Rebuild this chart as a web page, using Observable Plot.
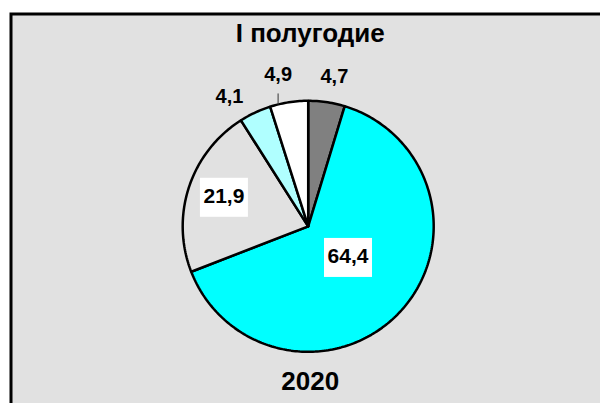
<!DOCTYPE html>
<html>
<head>
<meta charset="utf-8">
<script src="https://cdn.jsdelivr.net/npm/d3@7"></script>
<script src="https://cdn.jsdelivr.net/npm/@observablehq/plot@0.6"></script>
<style>
  html, body { margin: 0; padding: 0; background: #ffffff; }
  #chart svg { display: block; }
</style>
</head>
<body>
<div id="chart"></div>
<script>
// ---- data ----
const title = "I полугодие";
const yearLabel = "2020";
const categories = ["Категория 1", "Категория 2", "Категория 3", "Категория 4", "Категория 5"];
const values = [4.7, 64.4, 21.9, 4.1, 4.9];
const valueLabels = ["4,7", "64,4", "21,9", "4,1", "4,9"];
const sliceColors = ["#808080", "#00ffff", "#e1e1e1", "#b0ffff", "#ffffff"];

// ---- geometry from d3.pie (clockwise from 12 o'clock) ----
const arcs = d3.pie().sort(null).value(d => d)(values);

const slicePoints = [];
arcs.forEach((a, i) => {
  const n = Math.max(8, Math.ceil((a.endAngle - a.startAngle) / (Math.PI / 180)));
  slicePoints.push({i, x: 0, y: 0});
  for (let k = 0; k <= n; k++) {
    const t = a.startAngle + (a.endAngle - a.startAngle) * k / n;
    slicePoints.push({i, x: Math.sin(t), y: Math.cos(t)});
  }
  slicePoints.push({i, x: 0, y: 0});
});

// label placement style: radial factor + pixel nudges
const labelStyle = [
  {rf: 1.2, dx: 4, dy: -1, size: 20, box: false},
  {rf: 0.4, dx: 3, dy: -4, size: 21, box: true},
  {rf: 0.69, dx: -2, dy: -3, size: 21, box: true},
  {rf: 1.2, dx: -15, dy: 6.5, size: 20, box: false},
  {rf: 1.2, dx: -7, dy: -2.5, size: 20, box: false, leader: true}
];

const labels = arcs.map((a, i) => {
  const mid = (a.startAngle + a.endAngle) / 2;
  const s = labelStyle[i];
  return {i, text: valueLabels[i], x: Math.sin(mid) * s.rf, y: Math.cos(mid) * s.rf, ...s};
});

const R = 125.5, CX = 307.7, CY = 225.8;

const boxLabels = labels.filter(d => d.box);
const leaders = labels.filter(d => d.leader).map(d => {
  const lx = d.x + d.dx / R;
  const ay = Math.sqrt(1 - lx * lx);
  return {x: lx, y1: ay, y2: ay + 11 / R};
});

const font = "'Liberation Sans', Arial, sans-serif";

const marks = [
  Plot.frame({fill: "#e1e1e1", stroke: "#000000", strokeWidth: 3,
    insetLeft: 10.5, insetTop: 13.5, insetRight: -10, insetBottom: -10}),
  Plot.line(slicePoints, {
    x: "x", y: "y", z: "i",
    fill: d => sliceColors[d.i],
    stroke: "#000000", strokeWidth: 2.5,
    strokeLinejoin: "miter", curve: "linear"
  }),
  Plot.link(leaders, {x1: "x", x2: "x", y1: "y1", y2: "y2", stroke: "#333333", strokeWidth: 1})
];

boxLabels.forEach(d => {
  marks.push(Plot.rect([d], {
    x1: "x", x2: "x", y1: "y", y2: "y",
    dx: d.dx + 0.5, dy: d.dy + 1.5,
    insetLeft: -24, insetRight: -24, insetTop: -19.5, insetBottom: -19.5,
    fill: "#ffffff"
  }));
});

labels.forEach(d => {
  marks.push(Plot.text([d], {
    x: "x", y: "y", text: "text",
    dx: d.dx, dy: d.dy,
    fontSize: d.size, fontWeight: "bold", fill: "#000000",
    fontFamily: font, textAnchor: "middle", lineAnchor: "middle"
  }));
});

marks.push(Plot.text([title], {
  x: () => 0, frameAnchor: "top", text: d => d, dy: 23.5, dx: 2,
  fontSize: 26, fontWeight: "bold", fill: "#000000", fontFamily: font, lineAnchor: "top"
}));
marks.push(Plot.text([yearLabel], {
  x: () => 0, frameAnchor: "bottom", text: d => d, dy: -14, dx: 2,
  fontSize: 26, fontWeight: "bold", fill: "#000000", fontFamily: font, lineAnchor: "bottom"
}));

const chart = Plot.plot({
  width: 600,
  height: 403,
  margin: 0,
  style: {background: "transparent", fontFamily: font},
  x: {domain: [-1, 1], range: [CX - R, CX + R], axis: null},
  y: {domain: [-1, 1], range: [CY + R, CY - R], axis: null},
  color: {type: "identity"},
  marks
});
document.getElementById("chart").appendChild(chart);
</script>
</body>
</html>
